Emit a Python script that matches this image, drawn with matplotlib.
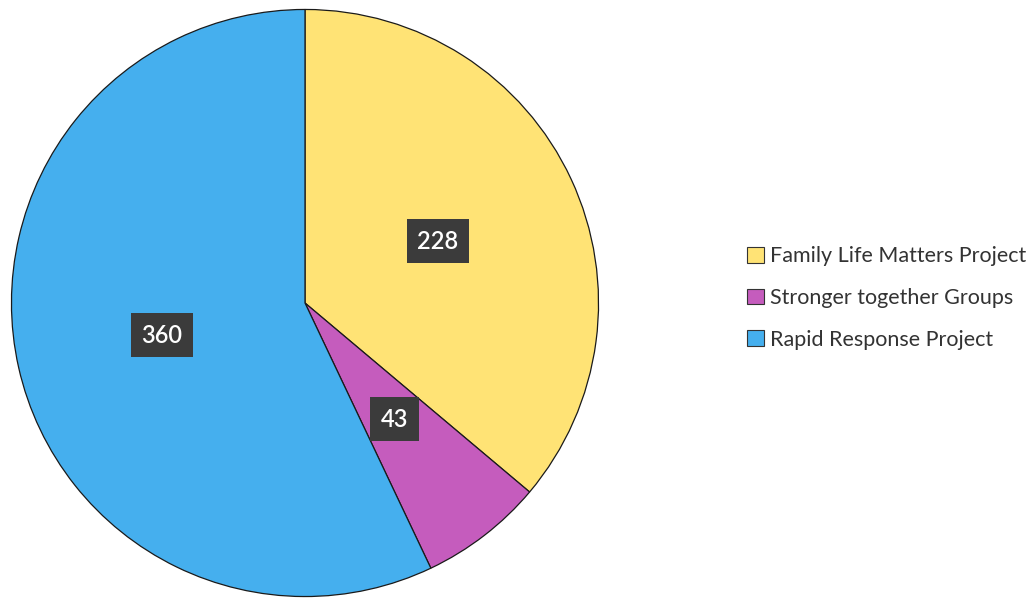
import matplotlib.pyplot as plt
from matplotlib.patches import Patch

# dados do grafico
labels = ['Family Life Matters Project', 'Stronger together Groups', 'Rapid Response Project']
values = [228, 43, 360]
colors = ['#FFE375', '#C55CBD', '#45AFEE']

total = sum(values)

fig = plt.figure(figsize=(10.3, 5.98), dpi=100)
ax = fig.add_axes([10 / 1030, 0.0, 590 / 1030, 590 / 598])

wedges, texts, autotexts = ax.pie(
    values, colors=colors, startangle=90, counterclock=False,
    autopct=lambda p: f'{round(p * total / 100)}', pctdistance=0.5,
    wedgeprops=dict(edgecolor='#1a1a1a', linewidth=0.9))
ax.set_aspect('equal')
ax.set_xlim(-1.005, 1.005)
ax.set_ylim(-1.005, 1.005)

for t in autotexts:
    t.set_color('white')
    t.set_fontsize(17)
    t.set_family('Lato')
    t.set_weight('semibold')
    t.set_bbox(dict(boxstyle='square,pad=0.45', facecolor='#3b3b3b', edgecolor='none'))

handles = [Patch(facecolor=c, edgecolor='#333333', linewidth=0.8) for c in colors]
fig.legend(handles, labels, loc='center left', bbox_to_anchor=(728 / 1030, 1 - 298 / 598),
           frameon=False, prop={'family': 'Lato', 'size': 15.5}, labelcolor='#333333',
           handlelength=0.75, handleheight=0.75, handletextpad=0.3, labelspacing=1.0)

fig.savefig('out.png', dpi=100)
